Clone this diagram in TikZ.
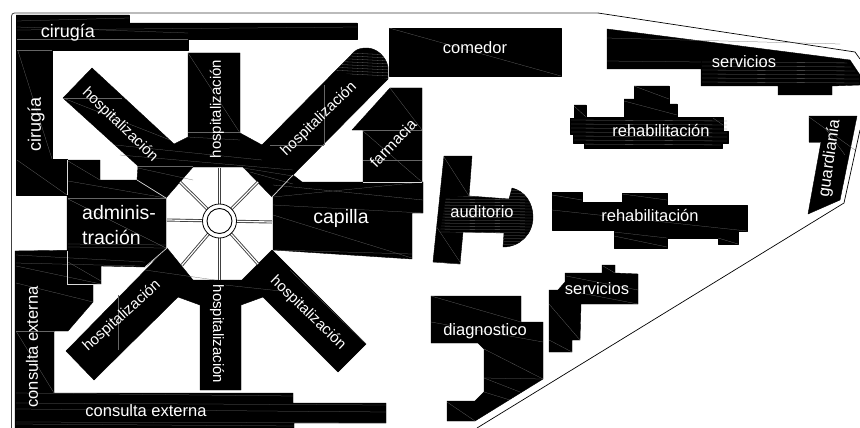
\documentclass[tikz,border=0pt]{standalone}
\usepackage{fontspec}
\setmainfont{Liberation Sans}
\tikzset{
  x=1pt,y=-1pt,
  block/.style={fill=black,draw=black,line width=.4pt,line join=round},
  frameline/.style={draw=black!75,line width=.8pt},
  seam/.style={draw=black!60,line width=.25pt},
  sep/.style={draw=white!85!black,line width=.7pt},
  hatch/.style={draw=black!60,line width=.3pt},
  spoke/.style={draw=black!75,line width=3pt},
  spokein/.style={draw=white,line width=1.2pt},
  lab/.style={text=white,inner sep=0pt,font=\fontsize{16.5}{18}\selectfont},
  labh/.style={text=white,inner sep=0pt,font=\fontsize{15}{17}\selectfont},
  labl/.style={text=white,inner sep=0pt,font=\fontsize{19.5}{22}\selectfont},
}
\begin{document}
\begin{tikzpicture}
\useasboundingbox (0,0) rectangle (860,428);
\fill[white] (0,0) rectangle (860,428);
% site boundary
\draw[frameline,rounded corners=3pt] (11.5,428) -- (11.5,13) -- (598,13);
\draw[draw=black,line width=.7pt] (598,13) -- (855,52) -- (860,59);
\draw[draw=black,line width=.7pt] (860,130) -- (844,203) -- (477,428);
% cirugia
\path[block] (16,15) -- (129,15) -- (129,23) -- (357,23) -- (357,39) -- (188,39) -- (188,50) -- (52,50) -- (52,159) -- (67,159) -- (67,195) -- (16,195) -- cycle;
% administracion
\path[block] (67,160) -- (100,160) -- (100,180) -- (137,180) -- (166,198) -- (166,251) -- (67,251) -- cycle;
% consulta externa
\path[block] (15,251) -- (167,249) -- (145,267) -- (101,266) -- (101,284) -- (93,284) -- (93,302) -- (68,331) -- (54,331) -- (54,393) -- (293,393) -- (293,403) -- (386,403) -- (386,423) -- (294,423) -- (294,428) -- (15,428) -- cycle;
% hospital arms, upper
\path[block] (92,68) -- (63,98) -- (138,166) -- (137,180) -- (166,198) -- (193,167) -- (243,167) -- (272,197) -- (293,175) -- (388,79) -- (388,67) .. controls (386,56) and (376,48) .. (367,48) .. controls (361,48) and (357,49) .. (354,52) -- (262,145) -- (240,133) -- (240,53) -- (188,53) -- (188,137) -- (174,144) -- cycle;
% hospital arms, lower
\path[block] (167,248) -- (66,351) -- (94,380) -- (178,297) -- (200,305) -- (200,390) -- (241,390) -- (241,305) -- (263,297) -- (338,372) -- (366,344) -- (272,250) -- (242,280) -- (193,280) -- cycle;
% capilla
\path[block] (273,197) -- (293,175) -- (302,182) -- (423,182) -- (423,213) -- (412,213) -- (412,259) -- (273,250) -- cycle;
% farmacia
\path[block] (390,88) -- (422,88) -- (422,182) -- (363,182) -- (363,130) -- (352,130) -- cycle;
% comedor
\path[block] (389,28) rectangle (561,76);
% servicios
\path[block] (607,29) -- (850,60) -- (860,75) -- (860,85) -- (832,86) -- (832,95) -- (778,95) -- (778,86) -- (701,86) -- (701,69) -- (607,69) -- cycle;
% rehabilitacion 1
\path[block] (634,86) -- (669,86) -- (669,104) -- (677,104) -- (677,117) -- (713,117) -- (723,117) -- (723,131) -- (728,131) -- (728,143) -- (722,143) -- (722,148) -- (584,148) -- (584,143) -- (573,143) -- (573,134) -- (570,134) -- (570,118) -- (574,118) -- (574,105) -- (586,105) -- (586,117) -- (624,117) -- (624,99) -- (634,99) -- cycle;
% guardiania
\path[block] (809,116) -- (857,116) -- (840,200) -- (808,214) -- (821,142) -- (809,142) -- cycle;
% auditorio
\path[block] (444,156) -- (472,156) -- (469,196) -- (509,199) -- (512,188) .. controls (525,191) and (533,203) .. (533,217) .. controls (533,234) and (520,247) .. (503,247) -- (504,233) -- (463,232) -- (460,264) -- (433,262) -- cycle;
% rehabilitacion 2
\path[block] (552,192) -- (582,192) -- (582,202) -- (622,202) -- (622,193) -- (667,193) -- (667,205) -- (747,205) -- (747,231) -- (738,231) -- (738,244) -- (718,244) -- (718,238) -- (667,238) -- (667,248) -- (614,248) -- (614,230) -- (552,230) -- cycle;
% servicios 2
\path[block] (602,265) -- (615,265) -- (615,273) -- (638,274) -- (638,304) -- (581,304) -- (580,340) -- (572,340) -- (572,352) -- (549,352) -- (549,290) -- (558,290) -- (565,282) -- (565,273) -- (602,273) -- cycle;
% diagnostico
\path[block] (431,296) -- (521,296) -- (521,322) -- (543,322) -- (543,379) -- (475,421) -- (447,421) -- (447,401) -- (475,401) -- (484,392) -- (484,349) -- (478,343) -- (431,343) -- cycle;
% seams
\foreach \a/\b/\c/\d in {17/21/129/18,17/30/357/27,17/27/188/33,17/39/188/39,17/50/52/50,18/51/52/159,17/160/67/195,68/161/100/180,68/181/166/198,68/198/166/198,68/199/166/248,68/247/166/248,68/244/166/245,
  16/255/145/262,16/263/140/266,16/266/101/284,68/262/101/281,16/283/93/302,16/331/54/331,16/331/54/393,16/393/293/396,16/403/386/405,16/409/386/412,16/422/386/423,16/424/294/426,
  188/53/240/133,188/132/240/132,188/137/240/140,115/145/262/160,120/155/293/170,63/98/170/140,63/98/122/98,138/168/193/180,138/166/193/166,243/168/293/176,250/172/293/184,324/85/324/145,270/145/324/145,
  273/205/423/213,273/185/423/200,273/197/423/182,273/215/412/258,275/250/412/254,
  390/88/422/130,363/130/422/130,363/131/422/182,363/160/422/160,
  389/28/561/76,
  607/38/840/44,607/61/701/62,
  634/86/669/99,624/101/677/115,574/106/586/117,713/118/723/125,
  809/117/855/150,809/142/821/142,825/128/845/155,
  444/157/469/196,433/262/460/264,436/226/460/262,
  552/195/582/200,622/194/667/200,552/210/747/231,614/232/667/238,614/236/667/247,718/238/738/244,
  603/266/615/273,566/276/638/290,565/290/638/304,549/304/580/340,549/340/572/352,
  431/296/521/322,431/322/543/342,484/349/543/379,484/378/543/379,484/378/520/392,484/392/510/400,447/402/475/421,
  145/270/215/280,225/285/290/292,118/295/118/350,290/270/366/344}
 {\draw[seam] (\a,\b) -- (\c,\d);}
% fine hatching on the rounded ends and the long wings
\begin{scope}
\clip (388,79) -- (388,67) .. controls (386,56) and (376,48) .. (367,48) .. controls (361,48) and (357,49) .. (354,52) -- (335,72) -- (388,79) -- cycle;
\foreach \y in {52,55,...,82} {\draw[hatch] (330,\y) -- (390,\y+3);}
\end{scope}
\begin{scope}
\clip (446,197) -- (469,196) -- (509,199) -- (512,188) .. controls (525,191) and (533,203) .. (533,217) .. controls (533,234) and (520,247) .. (503,247) -- (504,233) -- (440,232) -- cycle;
\foreach \y in {190,193,...,248} {\draw[hatch] (435,\y) -- (535,\y+1);}
\end{scope}
\begin{scope}
\clip (571,119) -- (727,119) -- (727,142) -- (721,142) -- (721,147) -- (585,147) -- (585,142) -- (574,142) -- (574,133) -- (571,133) -- cycle;
\foreach \y in {120,124,...,146} {\draw[hatch] (570,\y) -- (728,\y+1);}
\end{scope}
\begin{scope}
\clip (702,62) -- (846,62) -- (859,75) -- (859,84) -- (702,85) -- cycle;
\foreach \y in {62,66,...,84} {\draw[hatch] (702,\y) -- (860,\y+1);}
\end{scope}
% white separations
\draw[sep] (67,160) -- (67,195);
\draw[sep] (67,251) -- (67,284) -- (101,284);
\draw[sep] (137,180) -- (166,198);
\draw[sep] (167,248) -- (145,267);
\draw[sep] (272,197) -- (293,175);
\draw[sep] (363,182) -- (422,182);
% rotunda
\coordinate (c0) at (219.5,221);
\foreach \x/\y in {219.5/168,219.5/280,167/220,272/222,180/182,258/182,182/265,258/264}{
  \draw[spoke] (c0) -- (\x,\y);
}
\foreach \x/\y in {219.5/168,219.5/280,167/220,272/222,180/182,258/182,182/265,258/264}{
  \draw[spokein] (c0) -- (\x,\y);
}
\fill[white] (c0) circle[radius=17];
\draw[black,line width=.8pt] (c0) circle[radius=17];
\draw[black,line width=.9pt] (c0) circle[radius=12.5];
% labels
\node[lab,font=\fontsize{18}{20}\selectfont] (n1) at (68,33) {cirugía};
\node[lab,font=\fontsize{18}{20}\selectfont,rotate=90] (n2) at (36,124) {cirugía};
\node[labh,rotate=-44] (n3) at (120,125) {hospitalización};
\node[labh,rotate=90] (n4) at (217,109) {hospitalización};
\node[labh,rotate=44] (n5) at (319,119) {hospitalización};
\node[lab,font=\fontsize{15.5}{17}\selectfont,rotate=46] (n6) at (393,143) {farmacia};
\node[lab] (n7) at (475,48) {comedor};
\node[lab] (n8) at (744,62) {servicios};
\node[lab] (n9) at (661,131) {rehabilitación};
\node[lab] (n10) at (650,216) {rehabilitación};
\node[lab] (n11) at (482,212) {auditorio};
\node[lab,rotate=82] (n12) at (830,158) {guardianía};
\node[labl] (n13) at (341,218) {capilla};
\node[labl,anchor=west] (n14) at (82,213) {adminis-};
\node[labl,anchor=west] (n15) at (82,237) {tración};
\node[labh,rotate=42] (n16) at (122,316) {hospitalización};
\node[labh,rotate=-90] (n17) at (217,334) {hospitalización};
\node[labh,rotate=-44] (n18) at (308,313) {hospitalización};
\node[lab,rotate=90] (n19) at (32,347) {consulta externa};
\node[lab] (n20) at (146,411) {consulta externa};
\node[lab] (n21) at (485,331) {diagnostico};
\node[lab] (n22) at (597,289) {servicios};
\end{tikzpicture}
\end{document}
